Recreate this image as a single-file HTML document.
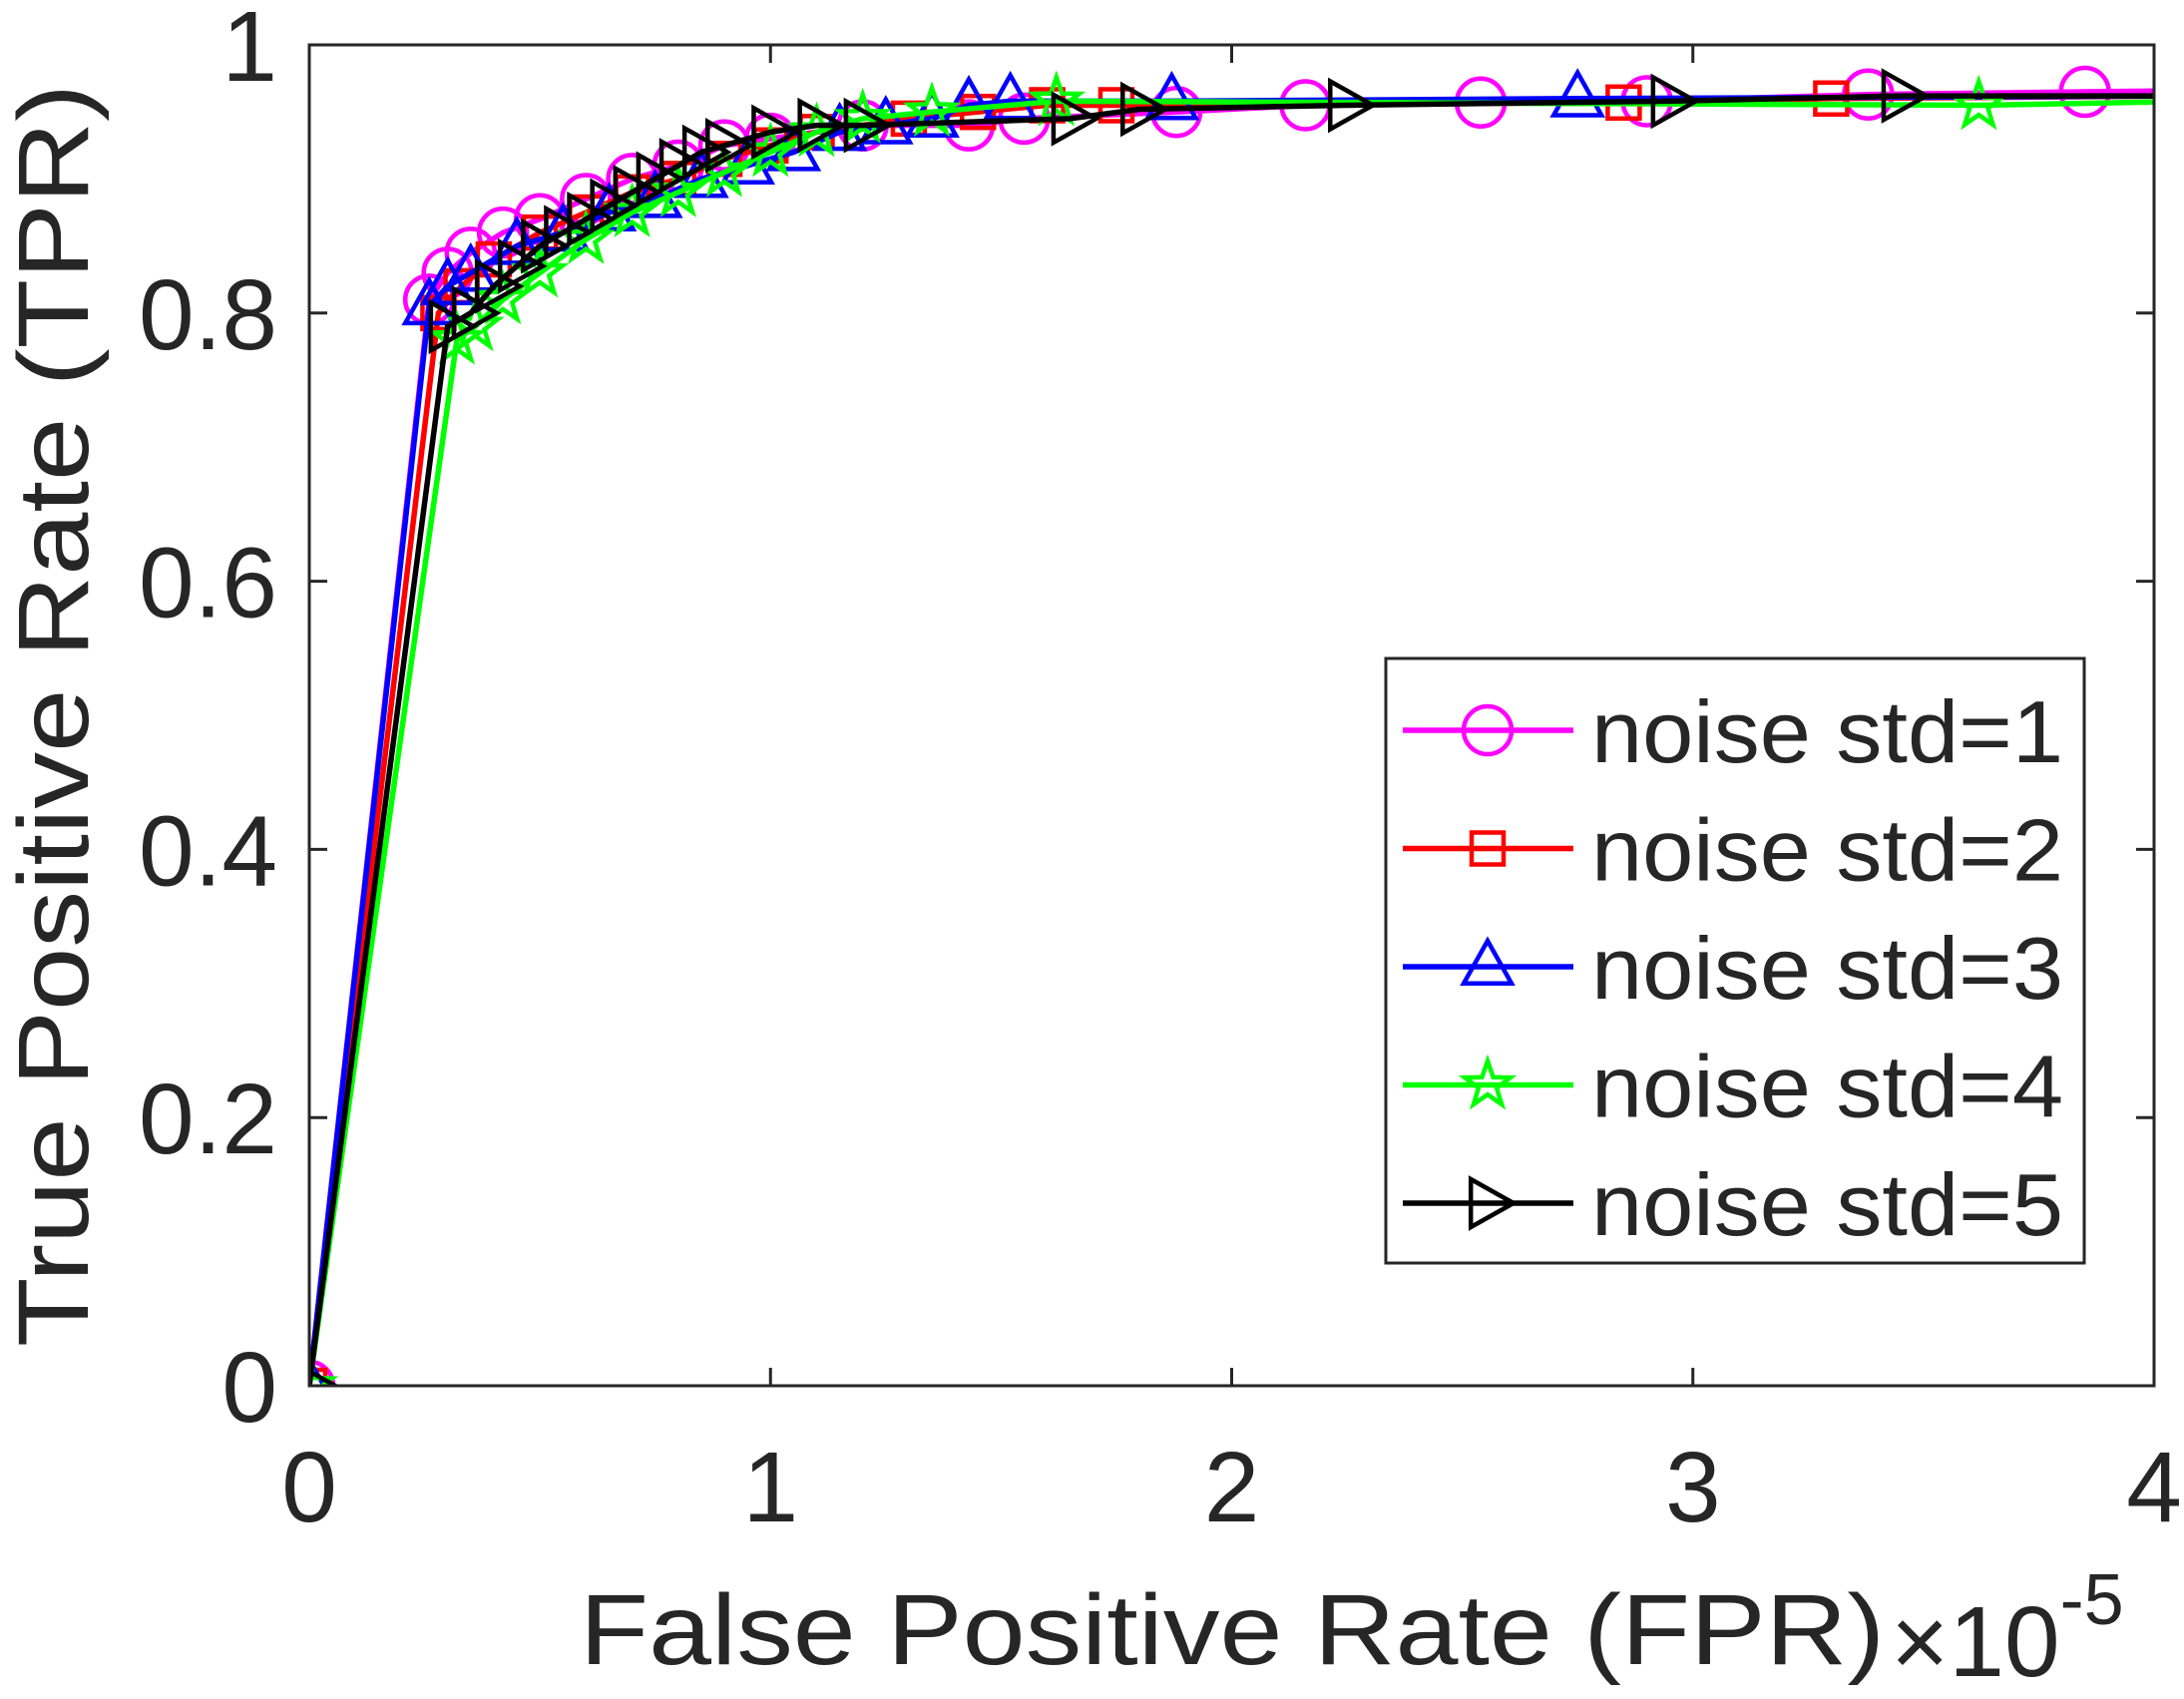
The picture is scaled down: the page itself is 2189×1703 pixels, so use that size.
<!DOCTYPE html>
<html><head><meta charset="utf-8"><style>
html,body{margin:0;padding:0;background:#fff}
svg{display:block}
text{font-family:"Liberation Sans",Arial,sans-serif;fill:#262626}
</style></head><body>
<svg id="chart" width="2189" height="1703" viewBox="0 0 2189 1703">
<defs><clipPath id="plotclip"><rect x="310" y="45" width="1849" height="1344"/></clipPath></defs>
<rect x="310" y="45" width="1849" height="1344" fill="#fff"/>
<g id="series" clip-path="url(#plotclip)"></g>
<rect x="310" y="45" width="1849" height="1344" fill="none" stroke="#262626" stroke-width="3"/>
<g id="ticks"></g>
<text x="88" y="717" font-size="100" text-anchor="middle" textLength="1266" lengthAdjust="spacingAndGlyphs" transform="rotate(-90 88 717)">True Positive Rate (TPR)</text>
<text x="581" y="1668" font-size="100" textLength="1308" lengthAdjust="spacingAndGlyphs">False Positive Rate (FPR)</text>
<text x="1895" y="1680" font-size="100">×10<tspan font-size="72" dy="-52">-5</tspan></text>
<g id="legend">
<rect x="1389" y="660" width="700" height="606" fill="#fff" stroke="#262626" stroke-width="3"/>
</g>
</svg>
<script>
const xTicks=[0,1,2,3,4];
const yTicks=[0,0.2,0.4,0.6,0.8,1];
const yTickLabels=["0","0.2","0.4","0.6","0.8","1"];
const seriesNames=["noise std=1","noise std=2","noise std=3","noise std=4","noise std=5"];
const seriesColors=["#ff00ff","#ff0000","#0000ff","#00ff00","#000000"];
const seriesMarkers=["circle","square","triangle","star","right"];
const s1x=[0,0.26,0.3,0.35,0.42,0.5,0.6,0.7,0.8,0.9,1.0,1.2,1.43,1.55,1.88,2.16,2.54,2.9,3.38,3.85,4.1];
const s1y=[0,0.81,0.83,0.845,0.86,0.87,0.885,0.9,0.91,0.925,0.93,0.94,0.94,0.945,0.95,0.955,0.957,0.958,0.963,0.965,0.966];
const s2x=[0,0.28,0.33,0.4,0.5,0.6,0.7,0.8,0.9,1.0,1.1,1.3,1.45,1.6,1.75,2.85,3.3,4.1];
const s2y=[0,0.8,0.82,0.84,0.86,0.875,0.89,0.9,0.915,0.925,0.935,0.945,0.95,0.955,0.955,0.957,0.96,0.962];
const s3x=[0,0.26,0.3,0.35,0.45,0.55,0.65,0.75,0.85,0.95,1.05,1.15,1.25,1.35,1.43,1.52,1.87,2.75,4.1];
const s3y=[0,0.805,0.82,0.83,0.85,0.86,0.875,0.885,0.9,0.91,0.92,0.935,0.94,0.945,0.955,0.958,0.958,0.96,0.962];
const s4x=[0,0.32,0.36,0.42,0.5,0.6,0.7,0.8,0.9,1.0,1.1,1.2,1.35,1.62,3.62,4.1];
const s4y=[0,0.78,0.79,0.81,0.83,0.855,0.875,0.89,0.905,0.92,0.935,0.945,0.95,0.958,0.955,0.958];
const s5x=[0,0.3,0.35,0.4,0.45,0.5,0.55,0.6,0.65,0.7,0.75,0.8,0.85,0.9,1.0,1.1,1.2,1.65,1.8,2.25,2.95,3.45,4.1];
const s5y=[0,0.79,0.8,0.82,0.835,0.85,0.86,0.87,0.88,0.89,0.9,0.91,0.92,0.925,0.935,0.94,0.94,0.945,0.952,0.955,0.958,0.962,0.962];
const allX=[s1x,s2x,s3x,s4x,s5x], allY=[s1y,s2y,s3y,s4y,s5y];

const NS="http://www.w3.org/2000/svg";
const X0=310,X1=2159,Y0=1389,Y1=45;
function sx(v){return X0+(v-0)/(4-0)*(X1-X0);}
function sy(v){return Y0-(v-0)/(1-0)*(Y0-Y1);}
function mk(tag,attrs,parent){const e=document.createElementNS(NS,tag);for(const k in attrs)e.setAttribute(k,attrs[k]);parent.appendChild(e);return e;}

const ticks=document.getElementById('ticks');
xTicks.forEach((t,i)=>{
  const x=sx(t);
  const a=mk('line',{x1:x,y1:Y0,x2:x,y2:Y0-18,stroke:'#262626','stroke-width':3},ticks);
  
  
  const b=mk('line',{x1:x,y1:Y1,x2:x,y2:Y1+18,stroke:'#262626','stroke-width':3},ticks);
  
  
  const tx=mk('text',{x:x,y:1525,'font-size':100,'text-anchor':'middle'},ticks);
  tx.textContent=String(t);
  
  
});
yTicks.forEach((t,i)=>{
  const y=sy(t);
  const a=mk('line',{x1:X0,y1:y,x2:X0+18,y2:y,stroke:'#262626','stroke-width':3},ticks);
  
  
  const b=mk('line',{x1:X1,y1:y,x2:X1-18,y2:y,stroke:'#262626','stroke-width':3},ticks);
  
  
  const tx=mk('text',{x:278,y:y+36,'font-size':100,'text-anchor':'end'},ticks);
  tx.textContent=yTickLabels[i];
  
  
});

function marker(type,x,y,color,parent){
  const r=24;let e;
  const st={fill:'none',stroke:color,'stroke-width':4.5};
  if(type==='circle'){e=mk('circle',Object.assign({cx:x,cy:y,r:r},st),parent);}
  else if(type==='square'){e=mk('rect',Object.assign({x:x-16,y:y-16,width:32,height:32},st),parent);}
  else if(type==='triangle'){e=mk('polygon',Object.assign({points:`${x},${y-r-2} ${x-r},${y+r*0.7} ${x+r},${y+r*0.7}`},st),parent);}
  else if(type==='right'){e=mk('polygon',Object.assign({points:`${x+r+2},${y} ${x-r*0.7},${y-r} ${x-r*0.7},${y+r}`},st),parent);}
  else {let p=[];for(let k=0;k<10;k++){const a=-Math.PI/2+k*Math.PI/5;const rr=k%2?r*0.4:r;p.push((x+rr*Math.cos(a)).toFixed(1)+','+(y+rr*Math.sin(a)).toFixed(1));}
    e=mk('polygon',Object.assign({points:p.join(' ')},st),parent);}
  return e;
}

const sg=document.getElementById('series');
allX.forEach((xs,si)=>{
  const g=mk('g',{},sg);
  
  
  const pts=xs.map((v,j)=>sx(v).toFixed(1)+','+sy(allY[si][j]).toFixed(1)).join(' ');
  const pl=mk('polyline',{points:pts,fill:'none',stroke:seriesColors[si],'stroke-width':5.5},g);
  
  
  xs.forEach((v,j)=>{
    const m=marker(seriesMarkers[si],sx(v),sy(allY[si][j]),seriesColors[si],g);
    
    
  });
});

const lg=document.getElementById('legend');
seriesNames.forEach((n,i)=>{
  const y=732+i*118.5;
  const g=mk('g',{},lg);
  
  
  mk('line',{x1:1406,y1:y,x2:1577,y2:y,stroke:seriesColors[i],'stroke-width':5.5},g);
  marker(seriesMarkers[i],1491,y,seriesColors[i],g);
  const t=mk('text',{x:1595,y:y+32,'font-size':88,textLength:473,lengthAdjust:'spacingAndGlyphs'},g);
  t.textContent=n;
});
</script>
</body></html>
